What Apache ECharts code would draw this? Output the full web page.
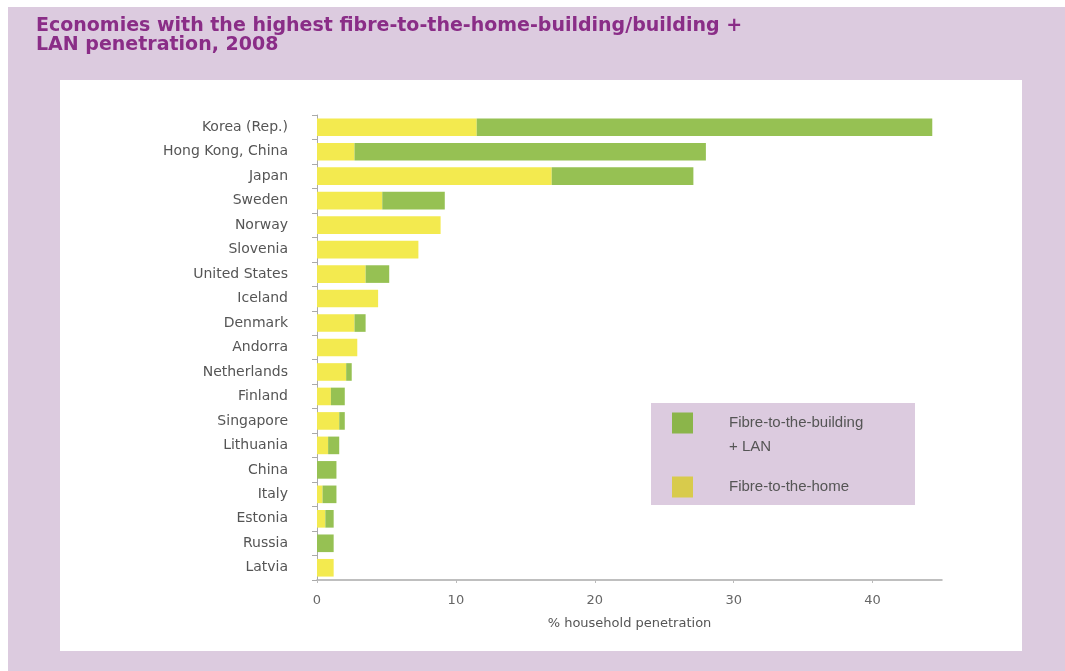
<!DOCTYPE html>
<html>
<head>
<meta charset="utf-8">
<script src="https://cdn.jsdelivr.net/npm/echarts@6/dist/echarts.min.js"></script>
<style>
html,body{margin:0;padding:0;background:#fff;}
#chart{width:1065px;height:671px;}
</style>
</head>
<body>
<div id="chart"></div>
<script>
// Data
const categories = ['Korea (Rep.)','Hong Kong, China','Japan','Sweden','Norway','Slovenia','United States','Iceland','Denmark','Andorra','Netherlands','Finland','Singapore','Lithuania','China','Italy','Estonia','Russia','Latvia'];
const fibreToHome = [11.5, 2.7, 16.9, 4.7, 8.9, 7.3, 3.5, 4.4, 2.7, 2.9, 2.1, 1.0, 1.6, 0.8, 0.0, 0.4, 0.6, 0.0, 1.2];
const fibreToBuildingLan = [32.8, 25.3, 10.2, 4.5, 0.0, 0.0, 1.7, 0.0, 0.8, 0.0, 0.4, 1.0, 0.4, 0.8, 1.4, 1.0, 0.6, 1.2, 0.0];
const xTicks = [0, 10, 20, 30, 40];
const titleText = 'Economies with the highest fibre-to-the-home-building/building +\nLAN penetration, 2008';
const axisName = '% household penetration';
const nameLan = 'Fibre-to-the-building\n+ LAN';
const nameHome = 'Fibre-to-the-home';

const chart = echarts.init(document.getElementById('chart'), null, {renderer: 'canvas'});
const labelFont = 'DejaVu Sans';
chart.setOption({
  backgroundColor: '#ffffff',
  animation: false,
  graphic: {
    elements: [
      {type: 'rect', z: -20, shape: {x: 8, y: 7, width: 1057, height: 664}, style: {fill: '#dccbdf'}},
      {type: 'rect', z: -19, shape: {x: 60, y: 80, width: 962, height: 571}, style: {fill: '#ffffff'}},
      {type: 'rect', z: -18, shape: {x: 651, y: 403, width: 264, height: 102}, style: {fill: '#dccbdf'}}
    ]
  },
  title: {
    text: titleText,
    left: 31,
    top: 12,
    textStyle: {
      fontFamily: labelFont,
      fontSize: 19,
      fontWeight: 'bold',
      color: '#8a2d87',
      lineHeight: 19
    }
  },
  legend: {
    orient: 'vertical',
    left: 651,
    top: 373,
    padding: [14, 10, 10, 21],
    itemWidth: 21,
    itemHeight: 21,
    itemGap: 16,
    icon: 'rect',
    selectedMode: false,
    data: [
      {name: nameLan, itemStyle: {color: '#8bb54a'}},
      {name: nameHome, itemStyle: {color: '#d8cb4c'}}
    ],
    formatter: function (name) { return name === nameLan ? '\n' + name : name; },
    textStyle: {
      fontFamily: 'Liberation Sans',
      fontSize: 15,
      color: '#555555',
      lineHeight: 24,
      padding: [0, 0, 0, 31]
    }
  },
  grid: {left: 317, right: 123, top: 115, bottom: 91, containLabel: false},
  xAxis: {
    type: 'value',
    min: 0,
    max: 45,
    interval: 10,
    name: axisName,
    nameLocation: 'middle',
    nameGap: 37,
    nameTextStyle: {fontFamily: labelFont, fontSize: 13, color: '#555555'},
    axisLine: {show: true, lineStyle: {color: '#aaaaaa', width: 1.5}},
    axisTick: {show: true, length: 3, lineStyle: {color: '#bbbbbb'}},
    axisLabel: {
      fontFamily: labelFont, fontSize: 13, color: '#666666', margin: 14,
      showMaxLabel: false,
      formatter: function (v) { return xTicks.indexOf(v) >= 0 ? String(v) : ''; }
    },
    splitLine: {show: false}
  },
  yAxis: {
    type: 'category',
    data: categories,
    inverse: true,
    axisLine: {show: true, lineStyle: {color: '#aaaaaa', width: 1}},
    axisTick: {show: true, length: 5, lineStyle: {color: '#aaaaaa'}},
    axisLabel: {fontFamily: labelFont, fontSize: 14, color: '#555555', margin: 29},
    splitLine: {show: false}
  },
  series: [
    {
      name: nameHome,
      type: 'bar',
      stack: 'total',
      data: fibreToHome,
      barCategoryGap: '28%',
      itemStyle: {color: '#f3ea4f'}
    },
    {
      name: nameLan,
      type: 'bar',
      stack: 'total',
      data: fibreToBuildingLan,
      barCategoryGap: '28%',
      itemStyle: {color: '#96c153'}
    }
  ]
});
</script>
</body>
</html>
